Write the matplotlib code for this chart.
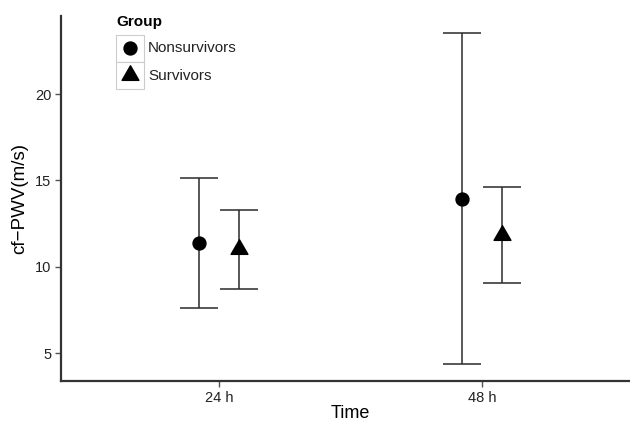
import matplotlib
matplotlib.use("Agg")
import matplotlib.pyplot as plt
from matplotlib.patches import Rectangle
from matplotlib.lines import Line2D
from matplotlib.path import Path
import numpy as np

plt.rcParams['font.family'] = ['Liberation Sans', 'DejaVu Sans']

times = ["24 h", "48 h"]
groups = ["Nonsurvivors", "Survivors"]
means = {"Nonsurvivors": [11.4, 13.95], "Survivors": [11.0, 11.85]}
lower = {"Nonsurvivors": [7.62, 4.38], "Survivors": [8.73, 9.07]}
upper = {"Nonsurvivors": [15.12, 23.52], "Survivors": [13.3, 14.6]}

tri = Path([(-1, -0.577), (1, -0.577), (0, 1.155), (-1, -0.577)],
           [Path.MOVETO, Path.LINETO, Path.LINETO, Path.CLOSEPOLY])
markers = {"Nonsurvivors": "o", "Survivors": tri}
msizes = {"Nonsurvivors": 9.3, "Survivors": 14}

W, H = 630, 423
fig = plt.figure(figsize=(W / 100, H / 100), dpi=100)
ax = fig.add_axes([61 / W, (H - 381) / H, (640 - 61) / W, (381 - 16) / H])

x = np.arange(1, len(times) + 1)
dodge = 0.075
for gi, g in enumerate(groups):
    off = -dodge if gi == 0 else dodge
    xs = x + off
    m = np.array(means[g]); lo = np.array(lower[g]); up = np.array(upper[g])
    ax.errorbar(xs, m, yerr=[m - lo, up - m], fmt='none', ecolor='#2a2a2a',
                elinewidth=1.1, capsize=14, capthick=1.1, zorder=2)
    ax.plot(xs, m, linestyle='none', marker=markers[g], color='black',
            markersize=msizes[g], zorder=3)

ax.set_xlim(0.4, 2.6)
ax.set_ylim(3.38, 24.52)
ax.set_xticks(x)
ax.set_xticklabels(times)
ax.set_yticks([5, 10, 15, 20])
for s in ['top', 'right']:
    ax.spines[s].set_visible(False)
for s in ['left', 'bottom']:
    ax.spines[s].set_linewidth(1.6)
    ax.spines[s].set_color('#333333')
ax.tick_params(axis='both', direction='out', length=4, width=1, color='#555555',
               labelsize=10.5, labelcolor='#222222', pad=3)
ax.set_xlabel("Time", fontsize=13, labelpad=0.5)
ax.set_ylabel("cf\u2212PWV(m/s)", fontsize=13.5, labelpad=5)

# legend
fig.text(116 / W, 1 - 22 / H, "Group", fontsize=11, fontweight='bold', va='center', ha='left')
box_x0, box_w, box_h = 116, 28, 27
for i, g in enumerate(groups):
    y0 = 35 + i * box_h
    fig.patches.append(Rectangle((box_x0 / W, 1 - (y0 + box_h) / H), box_w / W, box_h / H,
                                 transform=fig.transFigure, facecolor='white',
                                 edgecolor='#cccccc', linewidth=0.8))
    cx, cy = box_x0 + box_w / 2, y0 + box_h / 2
    fig.lines.append(Line2D([cx / W], [1 - cy / H], transform=fig.transFigure,
                            marker=markers[g], color='black', linestyle='none',
                            markersize=msizes[g]))
    fig.text(148 / W, 1 - cy / H, g, fontsize=11, va='center', ha='left', color='#222222')

fig.savefig("out.png", dpi=100)
